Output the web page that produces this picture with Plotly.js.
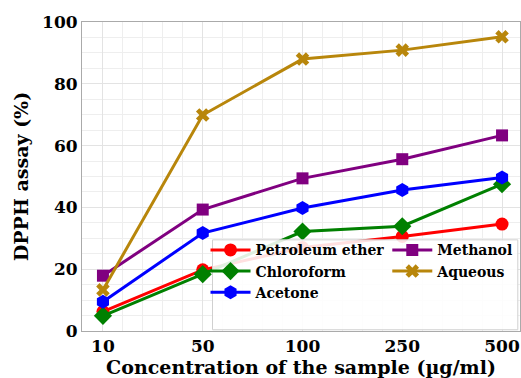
<!DOCTYPE html>
<html><head><meta charset="utf-8">
<script src="https://cdn.plot.ly/plotly-3.0.1.min.js"></script>
<style>body{margin:0;background:#fff}#c{width:521px;height:378px}</style>
</head><body><div id="c"></div>
<script>
const categories = ["10", "50", "100", "250", "500"];
const petroleumEther = [6.3, 19.8, 27.0, 30.6, 34.6];
const chloroform = [4.9, 18.4, 32.2, 33.9, 47.5];
const acetone = [9.5, 31.7, 39.8, 45.6, 49.7];
const methanol = [17.9, 39.3, 49.4, 55.6, 63.3];
const aqueous = [13.3, 69.9, 88.0, 90.9, 95.2];

const xs = categories.map((c, i) => i);
function tr(name, y, color, symbol, size, leg) {
  return {x: xs, y: y, name: name, type: 'scatter', mode: 'lines+markers', legend: leg,
    line: {color: color, width: 3}, marker: {color: color, symbol: symbol, size: size}};
}
const data = [
  tr('Petroleum ether', petroleumEther, '#ff0000', 'circle', 13, 'legend'),
  tr('Chloroform', chloroform, '#008000', 'diamond', 14, 'legend'),
  tr('Acetone', acetone, '#0000ff', 'hexagon', 14, 'legend'),
  tr('Methanol', methanol, '#800080', 'square', 12, 'legend2'),
  tr('Aqueous', aqueous, '#b8860b', 'x', 12, 'legend2')
];
const serif = 'DejaVu Serif, serif';
const legFont = {family: serif, size: 14, weight: 'bold', color: '#000'};
const layout = {
  width: 521, height: 378,
  margin: {l: 82, r: 1, t: 22, b: 47},
  paper_bgcolor: '#fff', plot_bgcolor: '#fff',
  font: {family: serif, color: '#000'},
  xaxis: {
    range: [-0.21, 4.18], tickvals: xs, ticktext: categories,
    tickfont: {family: serif, size: 17, weight: 'bold'},
    showgrid: true, gridcolor: '#e3e3e3', gridwidth: 1,
    minor: {dtick: 0.2, tick0: 0, showgrid: true, gridcolor: '#eeeeee'},
    showline: true, linecolor: '#aaa', mirror: true, zeroline: false,
    ticks: '',
    title: {text: 'Concentration of the sample (µg/ml)', font: {family: serif, size: 19, weight: 'bold'}, standoff: 3}
  },
  yaxis: {
    range: [0, 100], dtick: 20,
    tickfont: {family: serif, size: 17, weight: 'bold'},
    showgrid: true, gridcolor: '#e3e3e3',
    minor: {dtick: 5, showgrid: true, gridcolor: '#eeeeee'},
    showline: true, linecolor: '#aaa', mirror: true, zeroline: false,
    ticks: '',
    title: {text: 'DPPH assay (%)', font: {family: serif, size: 19, weight: 'bold'}, standoff: 8}
  },
  shapes: [{type: 'rect', xref: 'paper', yref: 'paper', layer: 'above',
    x0: 0.298, x1: 0.995, y0: 0.004, y1: 0.295,
    fillcolor: 'rgba(255,255,255,0.88)', line: {color: '#d0d0d0', width: 1}}],
  legend: {
    x: 0.282, y: 0.313, xanchor: 'left', yanchor: 'top',
    bgcolor: 'rgba(0,0,0,0)', borderwidth: 0, font: legFont,
    tracegroupgap: 0, itemwidth: 40
  },
  legend2: {
    x: 0.697, y: 0.313, xanchor: 'left', yanchor: 'top',
    bgcolor: 'rgba(0,0,0,0)', borderwidth: 0, font: legFont,
    tracegroupgap: 0, itemwidth: 40
  },
  showlegend: true
};
Plotly.newPlot('c', data, layout, {displayModeBar: false, staticPlot: true});
</script></body></html>
